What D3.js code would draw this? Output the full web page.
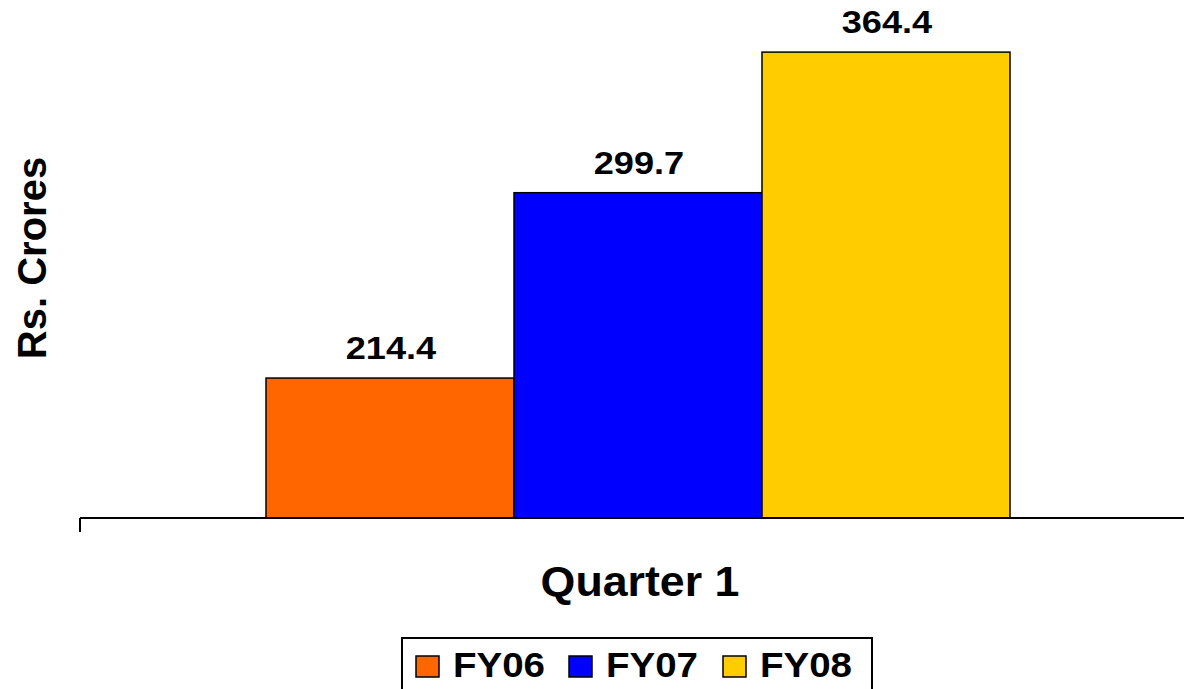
<!DOCTYPE html>
<html>
<head>
<meta charset="utf-8">
<script src="https://cdn.jsdelivr.net/npm/d3@7"></script>
<style>
  html, body { margin: 0; padding: 0; background: #fff; }
  svg { display: block; font-family: "Liberation Sans", Arial, sans-serif; font-weight: bold; }
</style>
</head>
<body>
<div class="chart"></div>
<script>
const categories = ["Quarter 1"]
const seriesNames = ["FY06", "FY07", "FY08"]
const seriesValues = [214.4, 299.7, 364.4]
const seriesColors = ["#ff6600", "#0000ff", "#ffcc00"]

const width = 1184
const height = 689
const margin = {left: 80, top: 0, right: -12, bottom: 171}
const chartWidth = width - margin.left - margin.right
const chartHeight = height - margin.top - margin.bottom

const svg = d3.select('.chart')
  .append('svg')
    .attr('width', width)
    .attr('height', height)
  .append('g')
    .attr('transform', `translate(${margin.left}, ${margin.top})`)

const xScale = d3.scaleBand()
  .domain(categories)
  .range([0, chartWidth])
  .paddingInner(0)
  .paddingOuter(0.25)

const inner = d3.scaleBand()
  .domain(seriesNames)
  .range([0, xScale.bandwidth()])

// axis does not start at zero
const yScale = d3.scaleLinear()
  .domain([150, 400])
  .range([chartHeight, chartHeight - 250 * 2.173])

const data = seriesNames.map((name, i) => ({
  cat: categories[0], name: name, value: seriesValues[i], color: seriesColors[i]
}))

svg.selectAll('rect.bar').data(data)
  .enter().append('rect')
    .attr('class', 'bar')
    .attr('x', d => xScale(d.cat) + inner(d.name))
    .attr('y', d => yScale(d.value))
    .attr('width', inner.bandwidth())
    .attr('height', d => chartHeight - yScale(d.value))
    .style('fill', d => d.color)
    .style('stroke', '#000')
    .style('stroke-width', 1.5)

// labels are a little stretched sideways in the original
svg.selectAll('text.value').data(data)
  .enter().append('text')
    .attr('class', 'value')
    .attr('transform', d => `translate(${xScale(d.cat) + inner(d.name) + inner.bandwidth() / 2 + 1}, ${yScale(d.value) - 19}) scale(1.13, 1)`)
    .attr('text-anchor', 'middle')
    .style('font-size', '32px')
    .text(d => d.value.toFixed(1))

// x axis: baseline plus a single left tick
const xAxis = svg.append('g')
  .attr('transform', `translate(0, ${chartHeight})`)
xAxis.append('line')
  .attr('x1', 0).attr('x2', chartWidth)
  .attr('y1', 0).attr('y2', 0)
  .style('stroke', '#000').style('stroke-width', 2)
xAxis.append('line')
  .attr('x1', 0).attr('x2', 0)
  .attr('y1', 0).attr('y2', 14)
  .style('stroke', '#000').style('stroke-width', 2)

svg.append('text')
  .attr('transform', `translate(${xScale(categories[0]) + xScale.bandwidth() / 2 + 2}, ${chartHeight + 78}) scale(1.04, 1)`)
  .attr('text-anchor', 'middle')
  .style('font-size', '43px')
  .text(categories[0])

svg.append('text')
  .attr('transform', `translate(${-34}, ${258}) rotate(-90)`)
  .attr('text-anchor', 'middle')
  .style('font-size', '40px')
  .text('Rs. Crores')

// legend
const legend = d3.select('svg').append('g')
  .attr('transform', 'translate(402, 638)')
legend.append('rect')
  .attr('x', 0).attr('y', 0)
  .attr('width', 470).attr('height', 60)
  .style('fill', '#fff').style('stroke', '#000').style('stroke-width', 2)

const itemX = [14, 167, 321]
const items = legend.selectAll('g.item').data(data)
  .enter().append('g')
    .attr('class', 'item')
    .attr('transform', (d, i) => `translate(${itemX[i]}, 0)`)
items.append('rect')
  .attr('x', 0).attr('y', 18)
  .attr('width', 23).attr('height', 21)
  .style('fill', d => d.color)
  .style('stroke', '#000').style('stroke-width', 1.5)
items.append('text')
  .attr('transform', 'translate(37, 39) scale(1.1, 1)')
  .style('font-size', '35px')
  .text(d => d.name)
</script>
</body>
</html>
